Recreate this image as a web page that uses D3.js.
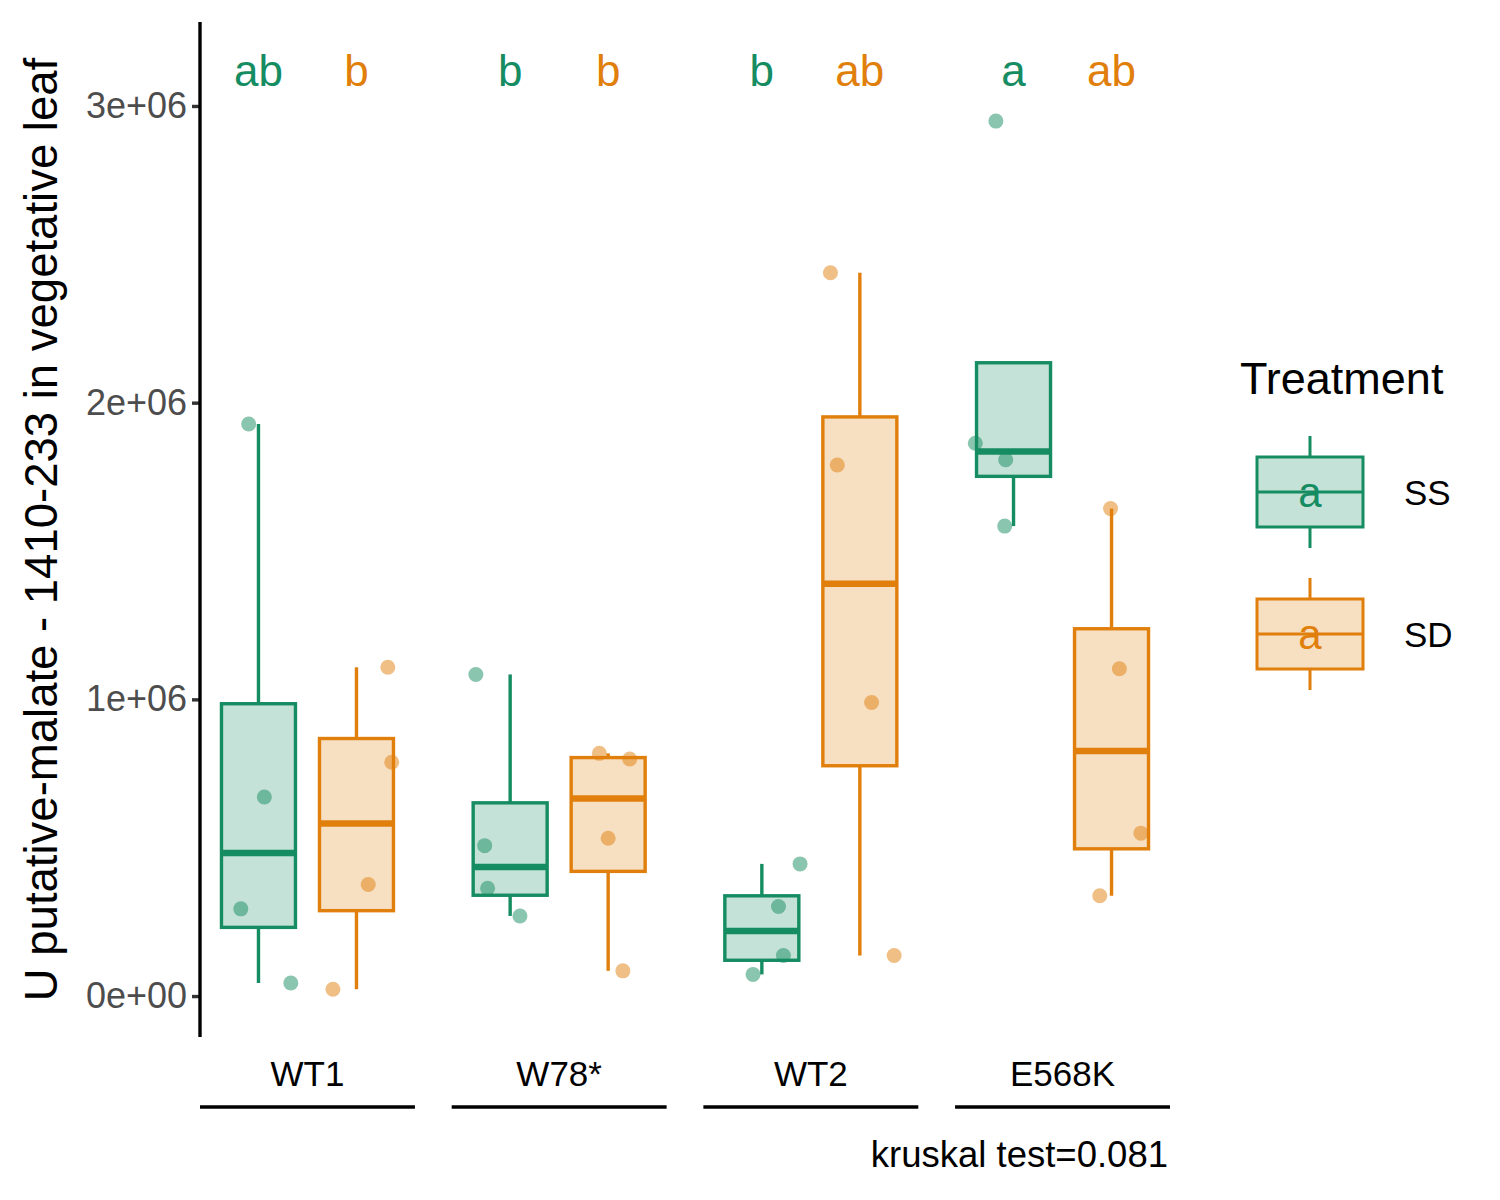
<!DOCTYPE html>
<html>
<head>
<meta charset="utf-8">
<script src="https://cdn.jsdelivr.net/npm/d3@7"></script>
<style>
  body { margin: 0; background: #fff; }
  text { font-family: "Liberation Sans", Arial, sans-serif; }
</style>
</head>
<body>
<svg id="chart" width="1500" height="1200"></svg>
<script>
// ---------- data ----------
const genotypes = ["WT1", "W78*", "WT2", "E568K"];
const treatments = ["SS", "SD"];
// measured values per genotype (4 replicates), in raw units
const valuesSS = [
  [1928000, 671000, 294000, 44000],
  [1084000, 507000, 363000, 270000],
  [445500, 302000, 136500, 73000],
  [2949000, 1863000, 1807500, 1584000]
];
const valuesSD = [
  [1108000, 788000, 376000, 23000],
  [818000, 799000, 532000, 85000],
  [2438000, 1790000, 989500, 136500],
  [1643000, 1103000, 549000, 338000]
];
const lettersSS = ["ab", "b", "b", "a"];
const lettersSD = ["b", "b", "ab", "ab"];
const yTicks = [0, 1000000, 2000000, 3000000];
const yTickLabels = ["0e+00", "1e+06", "2e+06", "3e+06"];
const yTitle = "U putative-malate - 1410-233 in vegetative leaf";
const legendTitle = "Treatment";
const kruskalText = "kruskal test=0.081";

// ---------- presentation ----------
const colors = { SS: "#168C62", SD: "#E17F0C" };
// horizontal jitter of the points, as fraction of a dodge slot
const jitterSS = [[-0.10, 0.06, -0.18, 0.33], [-0.35, -0.26, -0.23, 0.10], [0.39, 0.17, 0.22, -0.09], [-0.18, -0.39, -0.08, -0.09]];
const jitterSD = [[0.32, 0.36, 0.12, -0.24], [-0.09, 0.22, 0.00, 0.15], [-0.30, -0.23, 0.12, 0.35], [-0.01, 0.08, 0.30, -0.12]];

const svg = d3.select("#chart");
const panel = { left: 200, right: 1170, top: 22, bottom: 1037 };

const x = d3.scaleBand().domain(genotypes).range([panel.left, panel.right]).paddingInner(0.146).paddingOuter(0);
const slot = 98;
const x1 = d3.scaleBand().domain(treatments)
  .range([x.bandwidth() / 2 - slot, x.bandwidth() / 2 + slot]).paddingInner(0).paddingOuter(0);
const boxW = slot * 0.755;

const y = d3.scaleLinear().domain([-138000, 3283000]).range([panel.bottom, panel.top]);

function stats(arr) {
  const s = arr.slice().sort(d3.ascending);
  const q1 = d3.quantile(s, 0.25), med = d3.quantile(s, 0.5), q3 = d3.quantile(s, 0.75);
  const iqr = q3 - q1;
  const inside = s.filter(v => v >= q1 - 1.5 * iqr && v <= q3 + 1.5 * iqr);
  return { q1, med, q3, lo: Math.min(q1, d3.min(inside)), hi: Math.max(q3, d3.max(inside)) };
}

const groups = [];
genotypes.forEach((g, i) => {
  groups.push({ g, t: "SS", vals: valuesSS[i], jit: jitterSS[i], letter: lettersSS[i] });
  groups.push({ g, t: "SD", vals: valuesSD[i], jit: jitterSD[i], letter: lettersSD[i] });
});

const lw = 3.4;
// boxes
groups.forEach(d => {
  const s = stats(d.vals);
  const cx = x(d.g) + x1(d.t) + x1.bandwidth() / 2;
  const col = colors[d.t];
  const gg = svg.append("g");
  gg.append("line").attr("x1", cx).attr("x2", cx).attr("y1", y(s.hi)).attr("y2", y(s.q3))
    .attr("stroke", col).attr("stroke-width", lw);
  gg.append("line").attr("x1", cx).attr("x2", cx).attr("y1", y(s.q1)).attr("y2", y(s.lo))
    .attr("stroke", col).attr("stroke-width", lw);
  gg.append("rect").attr("x", cx - boxW / 2).attr("y", y(s.q3)).attr("width", boxW)
    .attr("height", y(s.q1) - y(s.q3))
    .attr("fill", col).attr("fill-opacity", 0.25).attr("stroke", col).attr("stroke-width", lw);
  gg.append("line").attr("x1", cx - boxW / 2).attr("x2", cx + boxW / 2).attr("y1", y(s.med)).attr("y2", y(s.med))
    .attr("stroke", col).attr("stroke-width", 6.5);
  d.cx = cx;
});

// points
groups.forEach(d => {
  svg.append("g").selectAll("circle").data(d.vals).join("circle")
    .attr("cx", (v, k) => d.cx + d.jit[k] * slot)
    .attr("cy", v => y(v))
    .attr("r", 7.5)
    .attr("fill", colors[d.t]).attr("fill-opacity", 0.5);
});

// significance letters
groups.forEach(d => {
  svg.append("text").attr("x", d.cx).attr("y", 86).attr("text-anchor", "middle")
    .attr("font-size", 44).attr("fill", colors[d.t]).text(d.letter);
});

// y axis
const yAxis = d3.axisLeft(y).tickValues(yTicks).tickFormat((d, i) => yTickLabels[i]).tickSize(8).tickPadding(5);
const ya = svg.append("g").attr("transform", `translate(${panel.left},0)`).call(yAxis);
ya.select(".domain").remove();
ya.selectAll(".tick line").attr("stroke", "#333").attr("stroke-width", 3.4);
ya.selectAll(".tick text").attr("font-size", 36).attr("fill", "#4D4D4D")
  .attr("font-family", "Liberation Sans, Arial, sans-serif");
svg.append("line").attr("x1", panel.left).attr("x2", panel.left).attr("y1", panel.top).attr("y2", panel.bottom)
  .attr("stroke", "#000").attr("stroke-width", 3.4);

// y title
svg.append("text").attr("transform", `translate(57,${(panel.top + panel.bottom) / 2}) rotate(-90)`)
  .attr("text-anchor", "middle").attr("font-size", 45.5).attr("fill", "#000").text(yTitle);

// x group labels + lines
genotypes.forEach(g => {
  const cx = x(g) + x.bandwidth() / 2;
  svg.append("text").attr("x", cx).attr("y", 1086).attr("text-anchor", "middle")
    .attr("font-size", 35).attr("fill", "#000").text(g);
  svg.append("line").attr("x1", x(g)).attr("x2", x(g) + x.bandwidth()).attr("y1", 1107).attr("y2", 1107)
    .attr("stroke", "#000").attr("stroke-width", 3.4);
});

// kruskal caption
svg.append("text").attr("x", 1168).attr("y", 1167).attr("text-anchor", "end")
  .attr("font-size", 36.5).attr("fill", "#000").text(kruskalText);

// legend
svg.append("text").attr("x", 1240).attr("y", 394).attr("font-size", 45).attr("fill", "#000").text(legendTitle);
const keyTops = { SS: 457, SD: 599 };
treatments.forEach(t => {
  const top = keyTops[t], col = colors[t];
  const kx = 1257, kw = 106, kh = 70, cx = kx + kw / 2;
  const lg = svg.append("g");
  lg.append("line").attr("x1", cx).attr("x2", cx).attr("y1", top - 21).attr("y2", top).attr("stroke", col).attr("stroke-width", 3);
  lg.append("line").attr("x1", cx).attr("x2", cx).attr("y1", top + kh).attr("y2", top + kh + 21).attr("stroke", col).attr("stroke-width", 3);
  lg.append("rect").attr("x", kx).attr("y", top).attr("width", kw).attr("height", kh)
    .attr("fill", col).attr("fill-opacity", 0.25).attr("stroke", col).attr("stroke-width", 3);
  lg.append("line").attr("x1", kx).attr("x2", kx + kw).attr("y1", top + kh / 2).attr("y2", top + kh / 2)
    .attr("stroke", col).attr("stroke-width", 3);
  lg.append("text").attr("x", cx).attr("y", top + kh / 2 + 15).attr("text-anchor", "middle")
    .attr("font-size", 42).attr("fill", col).text("a");
  lg.append("text").attr("x", 1404).attr("y", top + kh / 2 + 13).attr("font-size", 35).attr("fill", "#000").text(t);
});
</script>
</body>
</html>
